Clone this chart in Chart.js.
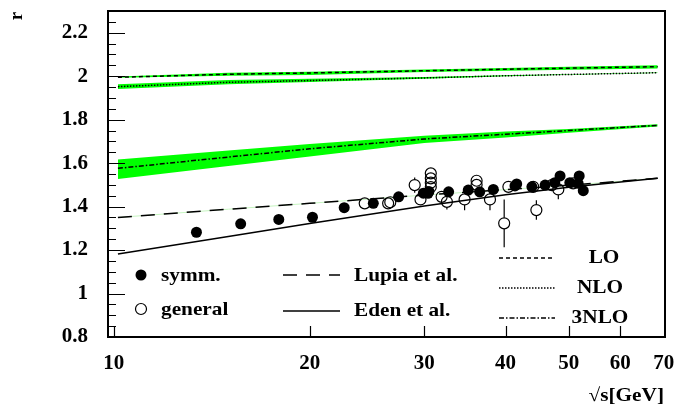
<!DOCTYPE html>
<html>
<head>
<meta charset="utf-8">
<script src="https://cdn.jsdelivr.net/npm/chart.js@4/dist/chart.umd.min.js"></script>
<style>
    html, body { margin: 0; padding: 0; background: #fff; }
    #wrap { width: 691px; height: 409px; }
</style>
</head>
<body>
<div id="wrap"><canvas id="Chart-r"></canvas></div>
<script>
const X_TICKS = [10, 20, 30, 40, 50, 60, 70];
const Y_TICKS = [0.8, 1.0, 1.2, 1.4, 1.6, 1.8, 2.0, 2.2];

// theory curves, sampled at these sqrt(s) values
const CURVE_X = [10.15, 15, 20, 30, 40, 50, 68.5];
const LO      = [1.995, 2.009, 2.015, 2.025, 2.032, 2.037, 2.044];
const LO_HI   = [1.999, 2.016, 2.021, 2.031, 2.038, 2.043, 2.050];
const LO_LO   = [1.993, 2.002, 2.006, 2.019, 2.025, 2.030, 2.036];
const NLO     = [1.952, 1.972, 1.980, 1.992, 2.002, 2.008, 2.016];
const NLO_HI  = [1.963, 1.983, 1.988, 1.996, 2.004, 2.009, 2.017];
const NLO_LO  = [1.941, 1.963, 1.973, 1.988, 2.000, 2.007, 2.015];
const N3LO    = [1.576, 1.628, 1.666, 1.711, 1.733, 1.750, 1.774];
const N3LO_HI = [1.617, 1.658, 1.688, 1.726, 1.745, 1.757, 1.779];
const N3LO_LO = [1.527, 1.587, 1.631, 1.693, 1.718, 1.740, 1.769];
const LUPIA   = [1.350, 1.388, 1.415, 1.453, 1.478, 1.498, 1.530];
const EDEN    = [1.182, 1.262, 1.322, 1.403, 1.455, 1.489, 1.530];

// measurements
const SYMM_X = [13.4, 15.67, 17.93, 20.2, 22.6, 25.05, 27.4, 29.9, 30.4, 30.5, 32.7, 35.05,
                36.5, 38.3, 41.35, 41.6, 43.9, 46.0, 47.6, 48.5, 50.2, 51.7, 51.9, 52.65];
const SYMM_Y = [1.282, 1.321, 1.341, 1.351, 1.395, 1.415, 1.445, 1.462, 1.461, 1.470, 1.468, 1.476,
                1.468, 1.479, 1.495, 1.504, 1.491, 1.499, 1.510, 1.541, 1.510, 1.507, 1.541, 1.473];
const GEN_X   = [24.3, 26.4, 26.6, 29.0, 29.6, 30.7, 30.7, 30.7, 30.7, 31.9, 32.5, 34.6,
                 36.1, 36.1, 37.85, 40.4, 39.8, 44.1, 44.6, 47.1, 48.2, 50.8];
const GEN_Y   = [1.415, 1.415, 1.420, 1.499, 1.433, 1.553, 1.530, 1.510, 1.490, 1.445, 1.422, 1.433,
                 1.519, 1.500, 1.433, 1.491, 1.323, 1.491, 1.384, 1.499, 1.479, 1.507];
const GEN_ERR = [0, 0, 0, 0.035, 0, 0, 0, 0, 0, 0, 0.035, 0.05,
                 0, 0, 0.05, 0, 0.11, 0, 0.045, 0, 0.045, 0];

const GREEN = '#00ff00';
const FONT = '"Liberation Serif", "DejaVu Serif", serif';
const R = 5.5;

function xy(xs, ys) {
    return xs.map((v, i) => ({ x: v, y: ys[i] }));
}

function curve(values, dash, color, width) {
    return {
        data: xy(CURVE_X, values),
        borderColor: color || '#000',
        borderWidth: width || 1.5,
        borderDash: dash,
        pointRadius: 0,
        fill: false,
        tension: 0
    };
}

function band(hi, lo) {
    return [{
        data: xy(CURVE_X, hi),
        borderWidth: 0,
        borderColor: GREEN,
        backgroundColor: GREEN,
        pointRadius: 0,
        fill: '+1',
        tension: 0
    }, {
        data: xy(CURVE_X, lo),
        borderWidth: 0,
        borderColor: GREEN,
        pointRadius: 0,
        fill: false,
        tension: 0
    }];
}

function seg(ctx, x1, x2, y, dash) {
    ctx.beginPath();
    ctx.setLineDash(dash);
    ctx.moveTo(x1, y);
    ctx.lineTo(x2, y);
    ctx.stroke();
}

// the reference font is a bit wider than Liberation Serif, so stretch it
function text(ctx, s, x, y, align) {
    const k = 1.12;
    ctx.save();
    ctx.translate(x, y);
    ctx.scale(k, 1);
    ctx.textAlign = align || 'left';
    ctx.fillText(s, 0, 0);
    ctx.restore();
}

const decor = {
    id: 'decor',
    afterDatasetsDraw(chart) {
        const { ctx, scales: { x, y } } = chart;
        ctx.save();
        ctx.strokeStyle = '#000';
        ctx.lineWidth = 1.2;
        // error bars, not drawn through the marker
        GEN_ERR.forEach((e, i) => {
            if (!e) return;
            const px = x.getPixelForValue(GEN_X[i]);
            const py = y.getPixelForValue(GEN_Y[i]);
            ctx.beginPath();
            ctx.moveTo(px, y.getPixelForValue(GEN_Y[i] + e));
            ctx.lineTo(px, py - R);
            ctx.moveTo(px, py + R);
            ctx.lineTo(px, y.getPixelForValue(GEN_Y[i] - e));
            ctx.stroke();
        });
        ctx.restore();
    },
    afterDraw(chart) {
        const { ctx, chartArea: a, scales: { x, y } } = chart;
        ctx.save();
        ctx.strokeStyle = '#000';
        ctx.fillStyle = '#000';

        // frame
        ctx.lineWidth = 2;
        ctx.strokeRect(a.left, a.top, a.right - a.left, a.bottom - a.top);

        // inward ticks
        ctx.lineWidth = 1.2;
        ctx.beginPath();
        for (let k = 0; k <= 30; k++) {
            const v = 0.8 + k * 0.05;
            const py = Math.round(y.getPixelForValue(v)) + 0.5;
            ctx.moveTo(a.left, py);
            ctx.lineTo(a.left + (k % 4 === 0 ? 17 : 8), py);
        }
        X_TICKS.slice(0, 6).forEach(v => {
            const px = Math.round(x.getPixelForValue(v)) + 0.5;
            ctx.moveTo(px, a.bottom);
            ctx.lineTo(px, a.bottom - 11);
        });
        ctx.stroke();

        // axis titles
        ctx.font = 'bold 19px ' + FONT;
        ctx.textBaseline = 'middle';
        text(ctx, '\u221As[GeV]', 664, 396, 'right');
        ctx.save();
        ctx.translate(17, 16);
        ctx.rotate(-Math.PI / 2);
        ctx.textAlign = 'center';
        ctx.fillText('r', 0, 0);
        ctx.restore();

        // legend
        ctx.font = 'bold 19px ' + FONT;
        ctx.beginPath();
        ctx.arc(141, 275, R, 0, Math.PI * 2);
        ctx.fill();
        ctx.lineWidth = 1.2;
        ctx.beginPath();
        ctx.arc(141, 309, R, 0, Math.PI * 2);
        ctx.stroke();
        text(ctx, 'symm.', 161, 276);
        text(ctx, 'general', 161, 310);

        ctx.lineWidth = 1.5;
        seg(ctx, 283, 340, 275, [14, 9]);
        seg(ctx, 283, 340, 311, []);
        text(ctx, 'Lupia et al.', 354, 276);
        text(ctx, 'Eden et al.', 354, 311);

        seg(ctx, 499, 555, 258, [4, 3]);
        seg(ctx, 499, 555, 288, [1.5, 1.5]);
        seg(ctx, 499, 555, 318, [5, 2, 1.5, 2]);
        ctx.setLineDash([]);
        text(ctx, 'LO', 604, 258, 'center');
        text(ctx, 'NLO', 600, 288, 'center');
        text(ctx, '3NLO', 600, 318, 'center');
        ctx.restore();
    }
};

window.onload = function () {
    new Chart(document.getElementById('Chart-r'), {
        type: 'line',
        data: {
            datasets: [
                {
                    data: xy(SYMM_X, SYMM_Y),
                    showLine: false,
                    pointRadius: R,
                    pointBackgroundColor: '#000',
                    pointBorderColor: '#000',
                    pointBorderWidth: 0
                },
                {
                    data: xy(GEN_X, GEN_Y),
                    showLine: false,
                    pointRadius: R,
                    pointBackgroundColor: 'rgba(0,0,0,0)',
                    pointBorderColor: '#000',
                    pointBorderWidth: 1.2
                },
                curve(LO, [4, 3]),
                curve(NLO, [1.5, 1.5]),
                curve(N3LO, [5, 2, 1.5, 2]),
                curve(LUPIA, [14, 9]),
                curve(EDEN, []),
                curve(LUPIA, [], '#c6f5c0', 1),
                ...band(LO_HI, LO_LO),
                ...band(NLO_HI, NLO_LO),
                ...band(N3LO_HI, N3LO_LO)
            ]
        },
        options: {
            responsive: true,
            maintainAspectRatio: false,
            animation: false,
            events: [],
            layout: {
                padding: { top: 11, right: 26, left: 0, bottom: 0 }
            },
            plugins: {
                legend: { display: false },
                tooltip: { enabled: false }
            },
            scales: {
                x: {
                    type: 'logarithmic',
                    min: 9.8,
                    max: 70.3,
                    grid: { display: false, drawTicks: false },
                    border: { display: false },
                    afterBuildTicks: s => { s.ticks = X_TICKS.map(v => ({ value: v })); },
                    afterFit: s => {
                        s.height = 72;
                        s.paddingLeft = 0;
                        s.paddingRight = 0;
                    },
                    ticks: {
                        autoSkip: false,
                        maxRotation: 0,
                        padding: 14,
                        color: '#000',
                        font: { family: FONT, size: 21, weight: 'bold' },
                        callback: v => String(v)
                    }
                },
                y: {
                    min: 0.8,
                    max: 2.3,
                    grid: { display: false, drawTicks: false },
                    border: { display: false },
                    afterBuildTicks: s => { s.ticks = Y_TICKS.map(v => ({ value: v })); },
                    afterFit: s => {
                        s.width = 108;
                        s.paddingTop = 0;
                        s.paddingBottom = 0;
                    },
                    ticks: {
                        padding: 20,
                        color: '#000',
                        font: { family: FONT, size: 21, weight: 'bold' },
                        callback: v => String(Math.round(v * 10) / 10)
                    }
                }
            }
        },
        plugins: [decor]
    });
};
</script>
</body>
</html>
